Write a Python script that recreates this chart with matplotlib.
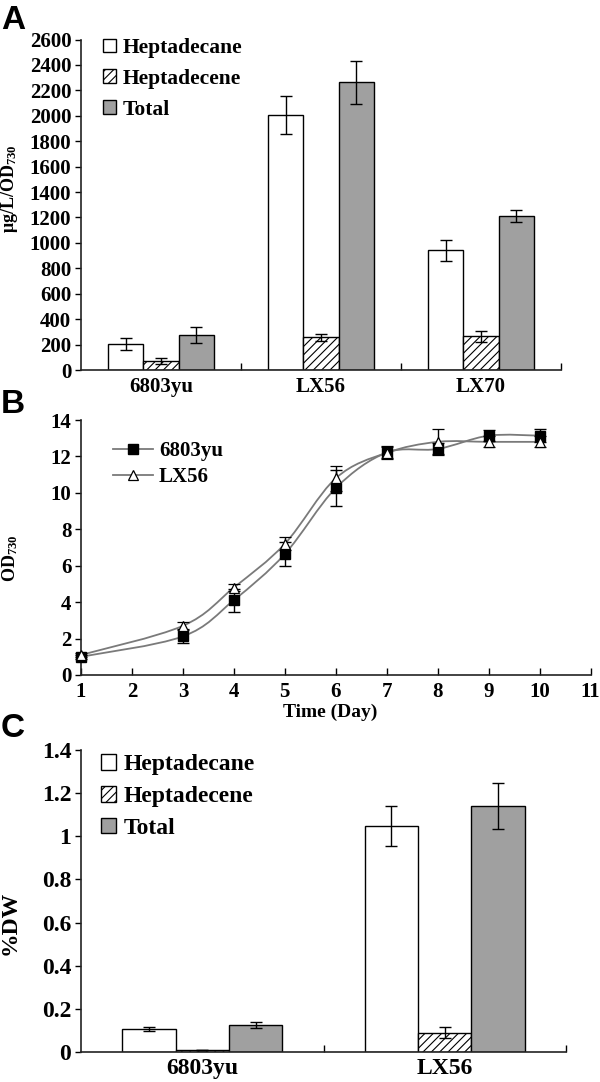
import matplotlib
matplotlib.use("Agg")
import matplotlib.pyplot as plt
import numpy as np
from matplotlib.patches import Patch, PathPatch
from matplotlib.lines import Line2D
from matplotlib.path import Path

# ---------------- data ----------------
strains_a = ["6803yu", "LX56", "LX70"]
series_names = ["Heptadecane", "Heptadecene", "Total"]
heptadecane_a = [204, 2005, 941]
heptadecane_a_err = [45, 147, 82]
heptadecene_a = [71, 257, 265]
heptadecene_a_err = [22, 30, 43]
total_a = [275, 2262, 1214]
total_a_err = [62, 170, 46]

days = [1, 3, 4, 5, 6, 7, 8, 9, 10]
od_6803yu = [1.0, 2.12, 4.11, 6.64, 10.26, 12.21, 12.41, 13.14, 13.14]
od_6803yu_err = [0.1, 0.35, 0.63, 0.65, 1.0, 0.3, 0.3, 0.3, 0.35]
od_lx56 = [1.1, 2.7, 4.8, 7.2, 10.8, 12.2, 12.8, 12.8, 12.8]
od_lx56_err = [0.1, 0.2, 0.2, 0.35, 0.7, 0.35, 0.7, 0.3, 0.3]
growth_names = ["6803yu", "LX56"]

strains_c = ["6803yu", "LX56"]
heptadecane_c = [0.107, 1.046]
heptadecane_c_err = [0.01, 0.093]
heptadecene_c = [0.011, 0.09]
heptadecene_c_err = [0.0, 0.025]
total_c = [0.125, 1.142]
total_c_err = [0.015, 0.107]

a_yticks = list(range(0, 2601, 200))
b_xticks = list(range(1, 12))
b_yticks = list(range(0, 15, 2))
c_yticks = [0, 0.2, 0.4, 0.6, 0.8, 1.0, 1.2, 1.4]
c_yticklabels = ["0", "0.2", "0.4", "0.6", "0.8", "1", "1.2", "1.4"]

# ---------------- style ----------------
SERIF = "Liberation Serif"
plt.rcParams["font.family"] = [SERIF, "DejaVu Serif"]
plt.rcParams["font.weight"] = "bold"
plt.rcParams["mathtext.fontset"] = "custom"
plt.rcParams["mathtext.rm"] = "Liberation Serif"
plt.rcParams["mathtext.bf"] = "Liberation Serif:bold"
plt.rcParams["hatch.color"] = "#555555"
plt.rcParams["hatch.linewidth"] = 0.8

GRAY = "#a0a0a0"
W, H = 600, 1082
fig = plt.figure(figsize=(W / 100, H / 100), dpi=100)


def fx(px):
    return px / W


def fy(py):
    return 1 - py / H


def style_axes(ax, tsize):
    for s in ["top", "right"]:
        ax.spines[s].set_visible(False)
    for s in ["left", "bottom"]:
        ax.spines[s].set_linewidth(1.2)
        ax.spines[s].set_color("#222222")
    ax.tick_params(axis="y", direction="out", length=4, width=1, labelsize=tsize, pad=3)
    for lab in ax.get_yticklabels() + ax.get_xticklabels():
        lab.set_fontweight("bold")


def grouped_bars(ax, vals, errs, width):
    n = len(vals[0])
    x = np.arange(n)
    offs = [-width, 0, width]
    styles = [dict(facecolor="white", hatch=None),
              dict(facecolor="white", hatch="////"),
              dict(facecolor=GRAY, hatch=None)]
    for v, e, o, st in zip(vals, errs, offs, styles):
        ax.bar(x + o, v, width, facecolor=st["facecolor"], hatch=st["hatch"],
               edgecolor="black", linewidth=1.0, zorder=2)
        ax.errorbar(x + o, v, yerr=e, fmt="none", ecolor="black",
                    elinewidth=1.0, capsize=4, capthick=1.0, zorder=3)
    ax.set_xlim(-0.5, n - 0.5)
    ax.set_xticks(x)
    ax.set_xticks(np.arange(n) + 0.5, minor=True)
    ax.tick_params(axis="x", which="major", length=0)
    ax.tick_params(axis="x", which="minor", direction="in", length=5, width=1)


def bar_legend(ax, top_px, left_px, size, hsize, spacing):
    handles = [Patch(facecolor="white", edgecolor="black", linewidth=1.0),
               Patch(facecolor="white", edgecolor="black", hatch="////", linewidth=1.0),
               Patch(facecolor=GRAY, edgecolor="black", linewidth=1.0)]
    leg = ax.legend(handles, series_names, loc="upper left",
                    bbox_to_anchor=(fx(left_px), fy(top_px)),
                    bbox_transform=fig.transFigure, frameon=False,
                    handlelength=hsize, handleheight=hsize, handletextpad=0.3,
                    labelspacing=spacing, borderpad=0, borderaxespad=0,
                    prop=dict(family=SERIF, weight="bold", size=size))
    return leg


# ---------------- panel A ----------------
axA = fig.add_axes([fx(81), fy(370), fx(561 - 81), (370 - 39.5) / H])
grouped_bars(axA, [heptadecane_a, heptadecene_a, total_a],
             [heptadecane_a_err, heptadecene_a_err, total_a_err], 0.22)
axA.set_ylim(0, 2600)
axA.set_yticks(a_yticks)
axA.set_xticklabels(strains_a)
axA.tick_params(axis="x", which="major", labelsize=15, pad=5)
style_axes(axA, 15)
bar_legend(axA, 38, 103, 15.5, 0.6, 0.5)
fig.text(fx(10), fy(189), r"μg/L/OD$\mathrm{_{730}}$", rotation=90,
         ha="center", va="center", fontsize=13, fontweight="bold")

# ---------------- panel B ----------------
axB = fig.add_axes([fx(81), fy(675), fx(590.5 - 81), (675 - 420) / H])


def smooth_path(xs, ys):
    xs = np.asarray(xs, float)
    ys = np.asarray(ys, float)
    pts = np.column_stack([xs, ys])
    ext = np.vstack([pts[0], pts, pts[-1]])
    verts = [tuple(pts[0])]
    codes = [Path.MOVETO]
    for i in range(1, len(ext) - 2):
        p0, p1, p2, p3 = ext[i - 1], ext[i], ext[i + 1], ext[i + 2]
        c1 = p1 + (p2 - p0) / 6.0
        c2 = p2 - (p3 - p1) / 6.0
        verts += [tuple(c1), tuple(c2), tuple(p2)]
        codes += [Path.CURVE4] * 3
    return Path(verts, codes)


line_col = "#7a7a7a"
for ys in [od_6803yu, od_lx56]:
    axB.add_patch(PathPatch(smooth_path(days, ys), facecolor="none",
                            edgecolor=line_col, linewidth=1.3, zorder=2))
ebL = axB.errorbar(days, od_lx56, yerr=od_lx56_err, fmt="^", ms=7.5, mfc="white",
                   mec="black", mew=0.9, ecolor="black", elinewidth=1.0, capsize=4,
                   capthick=1.0, zorder=4)
ebS = axB.errorbar(days, od_6803yu, yerr=od_6803yu_err, fmt="s", ms=6.5, mfc="black",
                   mec="black", ecolor="black", elinewidth=1.0, capsize=4,
                   capthick=1.0, zorder=3)
for eb in (ebL, ebS):
    for art in eb.get_children():
        art.set_clip_on(False)
axB.set_xlim(1, 11)
axB.set_ylim(0, 14)
axB.set_xticks(b_xticks)
axB.set_yticks(b_yticks)
axB.tick_params(axis="x", direction="in", length=5, width=1, labelsize=15, pad=5)
style_axes(axB, 15)
hB = [Line2D([0], [0], color=line_col, lw=1.3, marker="s", ms=6.5, mfc="black", mec="black"),
      Line2D([0], [0], color=line_col, lw=1.3, marker="^", ms=7.5, mfc="white", mec="black", mew=0.9)]
axB.legend(hB, growth_names, loc="upper left",
           bbox_to_anchor=(fx(113), fy(441)), bbox_transform=fig.transFigure,
           frameon=False, handlelength=1.9, handletextpad=0.3, labelspacing=0.3,
           borderpad=0, borderaxespad=0,
           prop=dict(family=SERIF, weight="bold", size=15))
fig.text(fx(10), fy(558), r"OD$\mathrm{_{730}}$", rotation=90,
         ha="center", va="center", fontsize=13, fontweight="bold")
fig.text(fx(330), fy(712), "Time (Day)", ha="center", va="center",
         fontsize=14, fontweight="bold")

# ---------------- panel C ----------------
axC = fig.add_axes([fx(81), fy(1052), fx(566 - 81), (1052 - 750) / H])
grouped_bars(axC, [heptadecane_c, heptadecene_c, total_c],
             [heptadecane_c_err, heptadecene_c_err, total_c_err], 0.22)
axC.set_ylim(0, 1.4)
axC.set_yticks(c_yticks)
axC.set_yticklabels(c_yticklabels)
axC.set_xticklabels(strains_c)
axC.tick_params(axis="x", which="major", labelsize=17, pad=4)
style_axes(axC, 17)
bar_legend(axC, 754, 101, 17, 0.65, 0.45)
fig.text(fx(10), fy(923), "%DW", rotation=90, ha="center", va="center",
         fontsize=17, fontweight="bold")

# ---------------- panel letters ----------------
for lab, top in [("A", 5), ("B", 389), ("C", 713)]:
    fig.text(fx(1), fy(top), lab, ha="left", va="top", fontsize=24,
             fontweight="bold", family="Liberation Sans")

fig.savefig("out.png", dpi=100)
